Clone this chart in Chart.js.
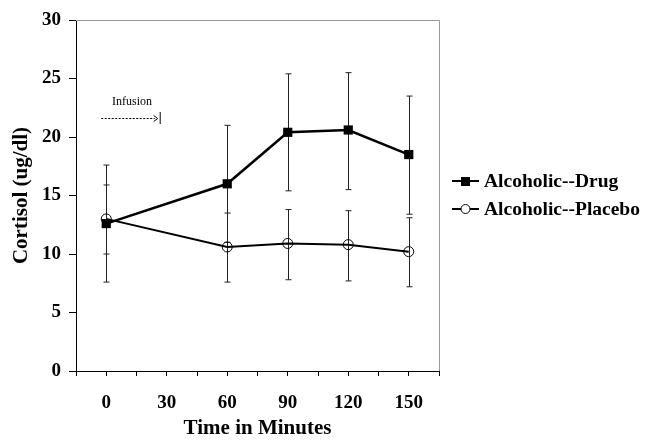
<!DOCTYPE html>
<html>
<head>
<meta charset="utf-8">
<script src="https://cdn.jsdelivr.net/npm/chart.js@4.4.1/dist/chart.umd.min.js"></script>
<style>
  html, body { margin: 0; padding: 0; background: #fff; }
  #wrap { width: 648px; height: 447px; }
</style>
</head>
<body>
<div id="wrap"><canvas id="chart" width="648" height="447"></canvas></div>
<script>
// values
const minutes = [0, 60, 90, 120, 150];
const xTickLabels = [0, 30, 60, 90, 120, 150];
const yTickLabels = [0, 5, 10, 15, 20, 25, 30];

const drugMean = [12.6, 16.0, 20.4, 20.6, 18.5];
const drugUpper = [17.6, 21.0, 25.4, 25.5, 23.5];
const drugLower = [7.6, 11.0, 15.4, 15.5, 13.4];

const placeboMean = [13.0, 10.6, 10.9, 10.8, 10.2];
const placeboUpper = [15.9, 13.5, 13.8, 13.7, 13.1];
const placeboLower = [10.0, 7.6, 7.8, 7.7, 7.2];

const seriesNames = ["Alcoholic--Drug", "Alcoholic--Placebo"];

const FONT = "'Liberation Serif', 'Times New Roman', serif";

function pts(xs, ys) {
  return xs.map((x, i) => ({ x: x, y: ys[i] }));
}

// error bars, drawn under the markers
const errorBars = {
  id: "errorBars",
  beforeDatasetsDraw(chart) {
    const { ctx, scales } = chart;
    const bars = [
      [drugUpper, drugLower],
      [placeboUpper, placeboLower],
    ];
    ctx.save();
    ctx.strokeStyle = "#222";
    ctx.lineWidth = 1;
    bars.forEach(([up, lo]) => {
      minutes.forEach((m, i) => {
        const x = Math.round(scales.x.getPixelForValue(m)) + 0.5;
        const y1 = scales.y.getPixelForValue(up[i]);
        const y2 = scales.y.getPixelForValue(lo[i]);
        ctx.beginPath();
        ctx.moveTo(x, y1);
        ctx.lineTo(x, y2);
        ctx.moveTo(x - 3, y1);
        ctx.lineTo(x + 3, y1);
        ctx.moveTo(x - 3, y2);
        ctx.lineTo(x + 3, y2);
        ctx.stroke();
      });
    });
    ctx.restore();
  },
};

// light frame on top/right, infusion note and legend
const extras = {
  id: "extras",
  afterDraw(chart) {
    const { ctx, chartArea: a, scales } = chart;
    ctx.save();
    ctx.strokeStyle = "#999";
    ctx.lineWidth = 1;
    ctx.beginPath();
    ctx.moveTo(a.left, a.top + 0.5);
    ctx.lineTo(a.right + 0.5, a.top + 0.5);
    ctx.lineTo(a.right + 0.5, a.bottom);
    ctx.stroke();

    // infusion arrow
    const ix0 = scales.x.getPixelForValue(-2.5);
    const ix1 = scales.x.getPixelForValue(26.5);
    const iy = 118;
    ctx.fillStyle = "#000";
    ctx.font = "12px " + FONT;
    ctx.textAlign = "center";
    ctx.textBaseline = "middle";
    ctx.fillText("Infusion", 132, 102);
    ctx.strokeStyle = "#000";
    ctx.lineWidth = 1;
    ctx.setLineDash([2, 1.5]);
    ctx.beginPath();
    ctx.moveTo(ix0, iy + 0.5);
    ctx.lineTo(ix1 - 5, iy + 0.5);
    ctx.stroke();
    ctx.setLineDash([]);
    ctx.beginPath();
    ctx.moveTo(ix1 - 6, iy - 2.5);
    ctx.lineTo(ix1 - 2, iy + 0.5);
    ctx.lineTo(ix1 - 6, iy + 3.5);
    ctx.moveTo(ix1 + 0.5, iy - 6);
    ctx.lineTo(ix1 + 0.5, iy + 6);
    ctx.stroke();

    // legend
    const rows = [181, 209];
    rows.forEach((y, i) => {
      ctx.strokeStyle = "#000";
      ctx.lineWidth = 2;
      ctx.beginPath();
      ctx.moveTo(452, y);
      ctx.lineTo(479, y);
      ctx.stroke();
      if (i === 0) {
        ctx.fillStyle = "#000";
        ctx.fillRect(461, y - 4, 9, 9);
      } else {
        ctx.lineWidth = 1;
        ctx.fillStyle = "#fff";
        ctx.beginPath();
        ctx.arc(465.5, y, 4.5, 0, Math.PI * 2);
        ctx.fill();
        ctx.stroke();
      }
      ctx.fillStyle = "#000";
      ctx.font = "bold 19.5px " + FONT;
      ctx.textAlign = "left";
      ctx.textBaseline = "middle";
      ctx.fillText(seriesNames[i], 484, y + 1);
    });
    ctx.restore();
  },
};

new Chart(document.getElementById("chart"), {
  type: "line",
  data: {
    datasets: [
      {
        label: seriesNames[0],
        data: pts(minutes, drugMean),
        borderColor: "#000",
        borderWidth: 2.5,
        pointStyle: "rect",
        pointRadius: 6.5,
        pointBackgroundColor: "#000",
        pointBorderColor: "#000",
        pointBorderWidth: 0,
        tension: 0,
      },
      {
        label: seriesNames[1],
        data: pts(minutes, placeboMean),
        borderColor: "#000",
        borderWidth: 2,
        pointStyle: "circle",
        pointRadius: 5,
        pointBackgroundColor: "rgba(255,255,255,0)",
        pointBorderColor: "#000",
        pointBorderWidth: 1,
        tension: 0,
      },
    ],
  },
  options: {
    responsive: false,
    animation: false,
    layout: { padding: { top: 20, right: 209, left: 0, bottom: 0 } },
    plugins: {
      legend: { display: false },
      tooltip: { enabled: false },
    },
    scales: {
      x: {
        type: "linear",
        min: -15,
        max: 165,
        afterBuildTicks(axis) {
          const t = [];
          for (let v = -15; v <= 165; v += 15) t.push({ value: v });
          axis.ticks = t;
        },
        afterFit(axis) { axis.height = 76; },
        ticks: {
          autoSkip: false,
          maxRotation: 0,
          padding: 16,
          color: "#000",
          font: { family: FONT, size: 19, weight: "bold" },
          callback: (v) => (xTickLabels.includes(v) ? String(v) : ""),
        },
        grid: { drawOnChartArea: false, drawTicks: true, tickLength: 5, color: "#000" },
        border: { display: true, color: "#000", width: 1 },
        title: {
          display: true,
          text: "Time in Minutes",
          color: "#000",
          font: { family: FONT, size: 21, weight: "bold" },
          padding: { top: 6, bottom: 6 },
        },
      },
      y: {
        min: 0,
        max: 30,
        afterBuildTicks(axis) {
          axis.ticks = yTickLabels.map((v) => ({ value: v }));
        },
        afterFit(axis) { axis.width = 76; },
        ticks: {
          padding: 8,
          color: "#000",
          font: { family: FONT, size: 19, weight: "bold" },
        },
        grid: { drawOnChartArea: false, drawTicks: true, tickLength: 7, color: "#000" },
        border: { display: true, color: "#000", width: 1 },
        title: {
          display: true,
          text: "Cortisol (ug/dl)",
          color: "#000",
          font: { family: FONT, size: 21, weight: "bold" },
          padding: { top: 9, bottom: 4 },
        },
      },
    },
  },
  plugins: [errorBars, extras],
});
</script>
</body>
</html>
